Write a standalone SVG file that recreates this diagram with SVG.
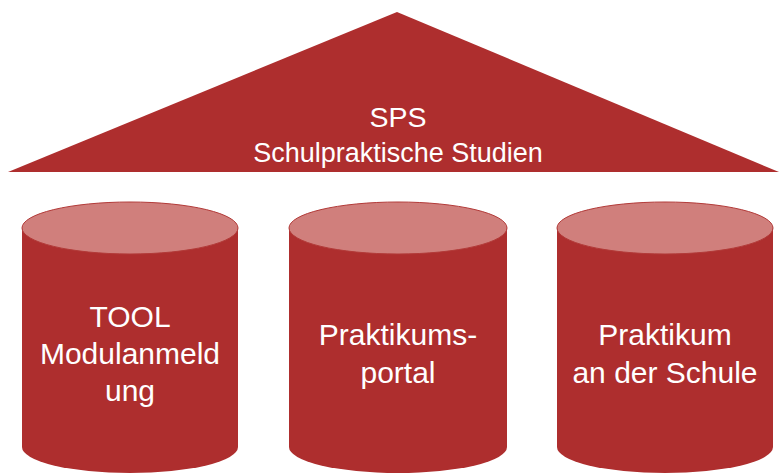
<svg xmlns="http://www.w3.org/2000/svg" width="779" height="473" viewBox="0 0 779 473">
<style>
.body{fill:#AE2E2E;}
.top{fill:#D07F7C;stroke:#B23A38;stroke-width:1;}
.t{font-family:"Liberation Sans",Arial,Helvetica,sans-serif;fill:#FFFFFF;text-anchor:middle;}
.c{font-size:30px;}
</style>
<rect width="779" height="473" fill="#FFFFFF"/>
<g id="roof">
<polygon class="body" points="397,12 779,172 8,172"/>
<text class="t" x="398" y="127" font-size="28.5">SPS</text>
<text class="t" x="398" y="162" font-size="27">Schulpraktische Studien</text>
</g>
<g id="tool">
<path class="body" d="M22,228 L22,447 A108,26 0 0 0 238,447 L238,228 Z"/>
<ellipse class="top" cx="130" cy="228" rx="108" ry="26"/>
<text class="t c" x="130" y="327">TOOL</text>
<text class="t c" x="130" y="364">Modulanmeld</text>
<text class="t c" x="130" y="401">ung</text>
</g>
<g id="portal">
<path class="body" d="M289,228 L289,447 A109,26 0 0 0 507,447 L507,228 Z"/>
<ellipse class="top" cx="398" cy="228" rx="109" ry="26"/>
<text class="t c" x="398" y="345">Praktikums-</text>
<text class="t c" x="398" y="383">portal</text>
</g>
<g id="schule">
<path class="body" d="M557,228 L557,447 A108,26 0 0 0 773,447 L773,228 Z"/>
<ellipse class="top" cx="665" cy="228" rx="108" ry="26"/>
<text class="t c" x="665" y="345">Praktikum</text>
<text class="t c" x="665" y="383">an der Schule</text>
</g>
<g id="connectors"/>
</svg>
